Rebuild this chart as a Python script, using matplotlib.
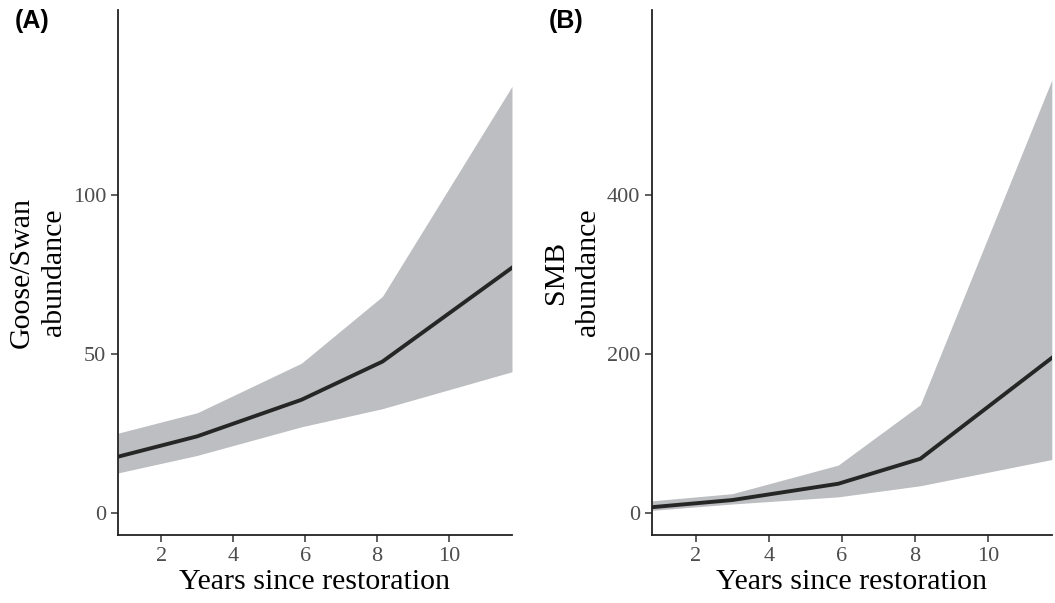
import matplotlib.pyplot as plt

# years since restoration (prediction points)
years = [0.8, 3, 5.9, 8.15, 11.75]

# (A) Goose/Swan
goose_fit = [17.6, 24, 35.5, 47.5, 77]
goose_lo = [12.5, 18, 27, 32.7, 44.3]
goose_hi = [25, 31.4, 47, 68, 134]

# (B) SMB
smb_fit = [7, 16, 36.5, 68, 195]
smb_lo = [3, 11, 20, 34, 67]
smb_hi = [15, 24, 60, 136, 545]

plt.rcParams['font.family'] = ['Liberation Serif', 'DejaVu Serif']

fig = plt.figure(figsize=(10.55, 6.03), dpi=100)
axA = fig.add_axes([0.1118, 0.1128, 0.3735, 0.8706])
axB = fig.add_axes([0.618, 0.1128, 0.379, 0.8706])

panels = [
    (axA, goose_fit, goose_lo, goose_hi, 'Goose/Swan\nabundance', (-7, 158), [0, 50, 100], '(A)', 0.0142),
    (axB, smb_fit, smb_lo, smb_hi, 'SMB\nabundance', (-28, 633), [0, 200, 400], '(B)', 0.5205),
]

for ax, fit, lo, hi, ylab, ylim, yt, tag, tx in panels:
    ax.fill_between(years, lo, hi, color='#bdbec1', linewidth=0)
    ax.plot(years, fit, color='#262626', linewidth=2.8)
    ax.set_xlim(0.8, 11.75)
    ax.set_ylim(*ylim)
    ax.set_xticks([2, 4, 6, 8, 10])
    ax.set_yticks(yt)
    for s in ['top', 'right']:
        ax.spines[s].set_visible(False)
    for s in ['left', 'bottom']:
        ax.spines[s].set_linewidth(1.3)
        ax.spines[s].set_color('#222222')
    ax.tick_params(labelsize=16, labelcolor='#4d4d4d', color='#333333',
                   length=5, width=1.1)
    ax.set_xlabel('Years since restoration', fontsize=21.5, labelpad=2)
    ax.set_ylabel(ylab, fontsize=21.5, linespacing=1.3, labelpad=4)
    fig.text(tx, 0.965, tag, fontsize=18, fontweight='bold',
             family='Liberation Sans', va='center', ha='left')

fig.savefig('out.png', dpi=100)
